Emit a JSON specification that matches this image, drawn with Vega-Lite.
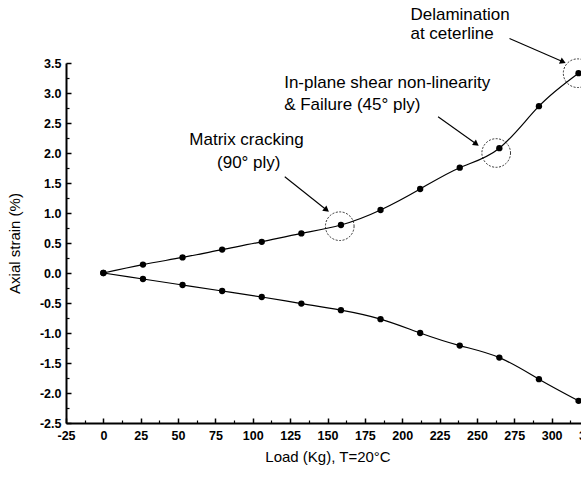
{
  "$schema": "https://vega.github.io/schema/vega-lite/v6.json",
  "autosize": {"type": "none"},
  "padding": {"left": 66, "top": 63, "right": 0, "bottom": 57},
  "width": 523,
  "height": 360,
  "background": "white",
  "config": {
    "view": {"stroke": null},
    "font": "Liberation Sans",
    "axis": {"grid": false, "domainColor": "black", "tickColor": "black", "labelColor": "black", "titleColor": "black", "labelFont": "Liberation Sans", "titleFont": "Liberation Sans"}
  },
  "datasets": {
    "series": [
      {"load": 0, "strain": 0, "series": "upper"},
      {"load": 26.5, "strain": 0.14, "series": "upper"},
      {"load": 53, "strain": 0.26, "series": "upper"},
      {"load": 79.5, "strain": 0.39, "series": "upper"},
      {"load": 106, "strain": 0.52, "series": "upper"},
      {"load": 132.5, "strain": 0.66, "series": "upper"},
      {"load": 159, "strain": 0.80, "series": "upper"},
      {"load": 185.5, "strain": 1.05, "series": "upper"},
      {"load": 212, "strain": 1.40, "series": "upper"},
      {"load": 238.5, "strain": 1.755, "series": "upper"},
      {"load": 265, "strain": 2.08, "series": "upper"},
      {"load": 291.5, "strain": 2.78, "series": "upper"},
      {"load": 318, "strain": 3.33, "series": "upper"},
      {"load": 0, "strain": 0, "series": "lower"},
      {"load": 26.5, "strain": -0.10, "series": "lower"},
      {"load": 53, "strain": -0.20, "series": "lower"},
      {"load": 79.5, "strain": -0.30, "series": "lower"},
      {"load": 106, "strain": -0.40, "series": "lower"},
      {"load": 132.5, "strain": -0.51, "series": "lower"},
      {"load": 159, "strain": -0.62, "series": "lower"},
      {"load": 185.5, "strain": -0.77, "series": "lower"},
      {"load": 212, "strain": -1.00, "series": "lower"},
      {"load": 238.5, "strain": -1.21, "series": "lower"},
      {"load": 265, "strain": -1.41, "series": "lower"},
      {"load": 291.5, "strain": -1.77, "series": "lower"},
      {"load": 318, "strain": -2.13, "series": "lower"}
    ],
    "circles": [
      {"load": 158.2, "strain": 0.78},
      {"load": 262.9, "strain": 2.0},
      {"load": 317.4, "strain": 3.33}
    ],
    "arrows": [
      {"id": "a1", "x1": 121.4, "y1": 1.605, "x2": 149.4, "y2": 1.05},
      {"id": "a2", "x1": 224, "y1": 2.605, "x2": 249.6, "y2": 2.15},
      {"id": "a3", "x1": 271.8, "y1": 3.91, "x2": 307.6, "y2": 3.52}
    ],
    "notes": [
      {"label": "Matrix cracking", "load": 95.8, "strain": 2.217, "group": "center"},
      {"label": "(90° ply)", "load": 97.3, "strain": 1.833, "group": "center"},
      {"label": "In-plane shear non-linearity", "load": 121, "strain": 3.17, "group": "left"},
      {"label": "& Failure (45° ply)", "load": 121, "strain": 2.8, "group": "left"},
      {"label": "Delamination", "load": 205.5, "strain": 4.3, "group": "left"},
      {"label": "at ceterline", "load": 205.5, "strain": 3.98, "group": "left"}
    ]
  },
  "resolve": {"axis": {"x": "independent", "y": "independent"}},
  "layer": [
    {
      "data": {"name": "series"},
      "mark": {"type": "line", "interpolate": "natural", "color": "black", "strokeWidth": 1.2},
      "encoding": {
        "x": {"field": "load", "type": "quantitative",
          "scale": {"domain": [-25, 325], "nice": false, "zero": false},
          "axis": {"orient": "bottom", "values": [-25, 0, 25, 50, 75, 100, 125, 150, 175, 200, 225, 250, 275, 300, 325],
            "labelExpr": "replace(datum.label, '−', '-')",
            "tickSize": -5, "tickWidth": 1.5, "domainWidth": 2, "labelFontSize": 12.5, "labelFontWeight": "bold", "labelPadding": 11, "labelFlush": false, "labelOverlap": false,
            "title": "Load (Kg), T=20°C", "titleFontSize": 15, "titleFontWeight": "normal", "titlePadding": 8}},
        "y": {"field": "strain", "type": "quantitative",
          "scale": {"domain": [-2.5, 3.5], "nice": false, "zero": false},
          "axis": {"orient": "left", "values": [-2.5, -2, -1.5, -1, -0.5, 0, 0.5, 1, 1.5, 2, 2.5, 3, 3.5], "format": ".1f",
            "labelExpr": "replace(datum.label, '−', '-')",
            "tickSize": -5, "tickWidth": 1.5, "domainWidth": 2, "labelFontSize": 12.5, "labelFontWeight": "bold", "labelPadding": 10, "labelFlush": false, "labelOverlap": false,
            "title": "Axial strain (%)", "titleFontSize": 15, "titleFontWeight": "normal", "titlePadding": 17}},
        "detail": {"field": "series"}
      }
    },
    {
      "data": {"name": "series"},
      "mark": {"type": "point", "shape": "circle", "filled": true, "color": "black", "size": 40, "opacity": 1},
      "encoding": {
        "x": {"field": "load", "type": "quantitative",
          "axis": {"orient": "bottom", "values": [-12.5, 12.5, 37.5, 62.5, 87.5, 112.5, 137.5, 162.5, 187.5, 212.5, 237.5, 262.5, 287.5, 312.5],
            "tickSize": -3, "tickWidth": 1.2, "domain": false, "labels": false, "title": null}},
        "y": {"field": "strain", "type": "quantitative",
          "axis": {"orient": "left", "values": [-2.25, -1.75, -1.25, -0.75, -0.25, 0.25, 0.75, 1.25, 1.75, 2.25, 2.75, 3.25],
            "tickSize": -3, "tickWidth": 1.2, "domain": false, "labels": false, "title": null}}
      }
    },
    {
      "data": {"name": "circles"},
      "mark": {"type": "point", "shape": "circle", "filled": false, "stroke": "black", "strokeWidth": 0.8, "strokeDash": [2, 1.5], "size": 820, "opacity": 1},
      "encoding": {
        "x": {"field": "load", "type": "quantitative", "axis": null},
        "y": {"field": "strain", "type": "quantitative", "axis": null}
      }
    },
    {
      "data": {"name": "arrows"},
      "mark": {"type": "rule", "color": "black", "strokeWidth": 1.1},
      "encoding": {
        "x": {"field": "x1", "type": "quantitative", "axis": null},
        "y": {"field": "y1", "type": "quantitative", "axis": null},
        "x2": {"field": "x2"},
        "y2": {"field": "y2"}
      }
    },
    {
      "data": {"name": "arrows"},
      "transform": [{"filter": "datum.id === 'a1'"}],
      "mark": {"type": "point", "shape": "triangle-up", "filled": true, "color": "black", "size": 45, "angle": 128.6, "opacity": 1},
      "encoding": {
        "x": {"field": "x2", "type": "quantitative", "axis": null},
        "y": {"field": "y2", "type": "quantitative", "axis": null}
      }
    },
    {
      "data": {"name": "arrows"},
      "transform": [{"filter": "datum.id === 'a2'"}],
      "mark": {"type": "point", "shape": "triangle-up", "filled": true, "color": "black", "size": 45, "angle": 125.4, "opacity": 1},
      "encoding": {
        "x": {"field": "x2", "type": "quantitative", "axis": null},
        "y": {"field": "y2", "type": "quantitative", "axis": null}
      }
    },
    {
      "data": {"name": "arrows"},
      "transform": [{"filter": "datum.id === 'a3'"}],
      "mark": {"type": "point", "shape": "triangle-up", "filled": true, "color": "black", "size": 45, "angle": 113.7, "opacity": 1},
      "encoding": {
        "x": {"field": "x2", "type": "quantitative", "axis": null},
        "y": {"field": "y2", "type": "quantitative", "axis": null}
      }
    },
    {
      "data": {"name": "notes"},
      "transform": [{"filter": "datum.group === 'center'"}],
      "mark": {"type": "text", "align": "center", "baseline": "middle", "fontSize": 17, "font": "Liberation Sans", "color": "black"},
      "encoding": {
        "x": {"field": "load", "type": "quantitative", "axis": null},
        "y": {"field": "strain", "type": "quantitative", "axis": null},
        "text": {"field": "label"}
      }
    },
    {
      "data": {"name": "notes"},
      "transform": [{"filter": "datum.group === 'left'"}],
      "mark": {"type": "text", "align": "left", "baseline": "middle", "fontSize": 17, "font": "Liberation Sans", "color": "black"},
      "encoding": {
        "x": {"field": "load", "type": "quantitative", "axis": null},
        "y": {"field": "strain", "type": "quantitative", "axis": null},
        "text": {"field": "label"}
      }
    }
  ]
}
